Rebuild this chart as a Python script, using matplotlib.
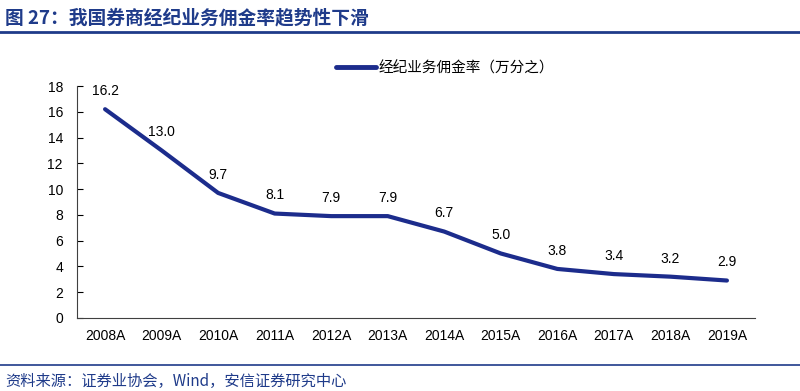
import matplotlib.pyplot as plt
from matplotlib.lines import Line2D

plt.rcParams['font.family'] = ['Noto Sans CJK SC', 'DejaVu Sans']

years = ['2008A', '2009A', '2010A', '2011A', '2012A', '2013A',
         '2014A', '2015A', '2016A', '2017A', '2018A', '2019A']
rate = [16.2, 13.0, 9.7, 8.1, 7.9, 7.9, 6.7, 5.0, 3.8, 3.4, 3.2, 2.9]

title = '图 27：我国券商经纪业务佣金率趋势性下滑'
source = '资料来源：证券业协会，Wind，安信证券研究中心'
series_name = '经纪业务佣金率（万分之）'

navy = '#1c2c8c'
title_blue = '#1f3b8a'

fig = plt.figure(figsize=(8, 3.91), dpi=100)
ax = fig.add_axes([0.096, 0.187, 0.848, 0.593])

x = list(range(len(years)))
ax.plot(x, rate, color=navy, lw=3, solid_capstyle='round', label=series_name)
for xi, v in zip(x, rate):
    ax.annotate(f'{v:.1f}', (xi, v), xytext=(0, 8), textcoords='offset points',
                ha='center', va='bottom', fontsize=10, family='Liberation Sans')

ax.set_xlim(-0.5, len(years) - 0.5)
ax.set_ylim(0, 18)
ax.set_yticks(range(0, 19, 2))
ax.set_xticks(x)
ax.set_xticklabels(years, family='Liberation Sans', fontsize=10)
ax.tick_params(axis='y', direction='in', length=4, labelsize=10, pad=10)
ax.tick_params(axis='x', length=0, pad=8)
for lab in ax.get_yticklabels():
    lab.set_family('Liberation Sans')
for s in ['top', 'right']:
    ax.spines[s].set_visible(False)
for s in ['left', 'bottom']:
    ax.spines[s].set_color('#404040')

ax.legend(handles=[Line2D([], [], color=navy, lw=3.5, solid_capstyle='round')],
          labels=[series_name], loc='center', bbox_to_anchor=(0.543, 1.077),
          frameon=False, fontsize=10.5, handlelength=2.7, handletextpad=0.2)

fig.text(0.006, 0.955, title, fontsize=13.5, fontweight='bold', color=title_blue,
         va='center', ha='left')
fig.add_artist(Line2D([0, 1], [0.918, 0.918], color=title_blue, lw=2,
                      transform=fig.transFigure))
fig.add_artist(Line2D([0, 1], [0.067, 0.067], color=title_blue, lw=1.2,
                      transform=fig.transFigure))
fig.text(0.006, 0.025, source, fontsize=11, color=title_blue, style='italic',
         va='center', ha='left')

fig.savefig('out.png', dpi=100)
